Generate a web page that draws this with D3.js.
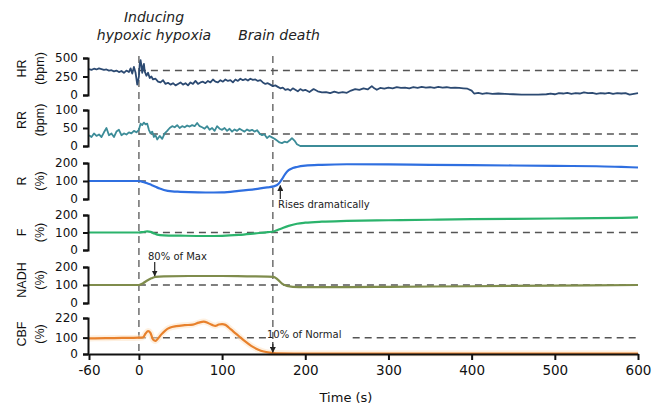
<!DOCTYPE html>
<html>
<head>
<meta charset="utf-8">
<script src="https://cdn.jsdelivr.net/npm/d3@7"></script>
<style>
  body { margin: 0; background: #fff; }
  svg { display: block; }
  .tick text { font-family: "DejaVu Sans", sans-serif; fill: #111; }
</style>
</head>
<body>
<div id="chart"></div>
<script>
// ---- data: [time (s), value] ----
const hrData = [[-60,350],[-57,340],[-54,355],[-51,345],[-48,360],[-45,350],[-42,340],[-39,345],[-36,330],[-33,335],
  [-30,320],[-27,330],[-24,310],[-21,325],[-18,300],[-15,330],[-12,310],[-10,360],[-8,290],[-6,380],[-4,300],[-2,140],
  [0,250],[1,420],[2,470],[3,400],[4,300],[5,380],[6,420],[7,320],[9,260],[11,300],[13,230],[15,250],[17,210],[20,220],
  [23,180],[26,170],[29,200],[32,150],[35,165],[38,140],[41,160],[44,130],[47,150],[50,170],[53,140],[56,160],[59,130],
  [62,170],[65,150],[68,190],[71,150],[74,170],[77,180],[80,160],[83,190],[86,170],[89,210],[92,180],[95,170],[98,200],
  [101,180],[104,210],[107,190],[110,200],[113,170],[116,210],[119,190],[122,220],[125,200],[128,215],[131,195],[134,220],
  [137,205],[140,210],[143,190],[146,200],[149,170],[152,150],[155,160],[158,140],[161,120],[164,130],[167,110],[170,90],
  [173,100],[176,70],[179,80],[182,60],[185,90],[188,70],[191,50],[194,80],[197,60],[200,70],[205,40],[210,80],[215,50],
  [220,35],[225,40],[230,25],[235,45],[240,30],[245,40],[250,30],[255,60],[260,80],[265,70],[270,90],[275,75],[280,120],
  [283,90],[286,70],[290,95],[295,85],[300,100],[305,90],[310,105],[315,95],[320,100],[325,90],[330,105],[335,95],
  [340,110],[345,100],[350,105],[355,95],[360,110],[365,100],[370,105],[375,95],[380,100],[385,95],[390,90],[395,85],
  [400,60],[403,20],[408,30],[413,15],[418,25],[425,15],[432,20],[440,15],[450,10],[460,5],[470,5],[480,5],[490,10],
  [495,20],[500,10],[505,25],[510,20],[515,30],[520,15],[525,25],[530,20],[535,35],[540,25],[545,30],[550,15],[555,25],
  [560,20],[565,30],[570,15],[575,25],[580,20],[585,25],[590,5],[595,15],[600,25]];

const rrData = [[-60,30],[-57,25],[-54,35],[-51,28],[-48,32],[-45,25],[-42,38],[-39,50],[-36,30],[-33,35],[-30,25],
  [-27,40],[-24,45],[-21,30],[-18,35],[-15,32],[-12,38],[-9,35],[-6,42],[-3,38],[0,45],[2,62],[4,58],[6,65],[8,60],
  [10,62],[12,45],[14,35],[16,40],[18,25],[20,30],[22,18],[25,28],[28,20],[31,35],[34,42],[37,50],[40,55],[43,52],
  [46,58],[49,50],[52,55],[55,52],[58,57],[61,54],[64,58],[67,55],[70,64],[73,55],[76,52],[79,48],[82,55],[85,45],
  [88,50],[91,42],[94,55],[97,48],[100,45],[103,50],[106,42],[109,48],[112,40],[115,46],[118,42],[121,48],[124,44],
  [127,40],[130,46],[133,42],[136,45],[139,40],[142,44],[145,35],[148,30],[151,32],[154,22],[157,28],[160,24],[163,20],
  [166,15],[169,10],[172,8],[175,12],[178,10],[181,15],[184,22],[187,15],[190,5],[194,0],[600,0]];

const rData = [[-60,100],[-30,100],[-10,100],[0,100],[5,95],[10,88],[15,78],[20,68],[25,58],[30,50],[40,42],[50,40],
  [60,38],[80,36],[100,37],[120,45],[140,55],[155,65],[162,70],[168,85],[172,110],[176,140],[180,160],[185,172],
  [190,178],[200,185],[220,190],[250,193],[300,192],[350,190],[400,188],[450,186],[500,184],[550,182],[580,178],[600,175]];

const fData = [[-60,100],[0,100],[5,103],[10,106],[14,104],[18,95],[22,88],[30,84],[50,82],[80,80],[100,81],[120,86],
  [140,95],[155,102],[162,106],[170,120],[180,138],[190,150],[200,156],[220,162],[250,166],[300,170],[350,173],
  [400,176],[450,178],[500,180],[550,182],[580,184],[600,186]];

const nadhData = [[-60,100],[0,100],[5,110],[10,125],[15,137],[20,145],[30,148],[60,150],[100,150],[130,148],[155,147],
  [162,145],[167,130],[172,108],[178,95],[185,90],[200,88],[250,88],[300,90],[400,93],[500,97],[600,100]];

const cbfData = [[-60,95],[-40,97],[-20,98],[0,100],[5,102],[8,125],[11,140],[14,128],[17,88],[20,80],[23,95],[27,120],
  [32,145],[37,160],[45,170],[55,176],[65,180],[72,192],[78,198],[83,190],[88,178],[92,172],[96,180],[100,182],[104,178],
  [108,162],[113,140],[120,110],[127,80],[135,50],[143,28],[150,15],[157,8],[165,4],[200,3],[300,3],[400,3],[500,3],[600,3]];

const panelNames = ["HR", "RR", "R", "F", "NADH", "CBF"];
const panelUnits = ["(bpm)", "(bpm)", "(%)", "(%)", "(%)", "(%)"];
const panelSeries = [hrData, rrData, rData, fData, nadhData, cbfData];
const panelMax = [500, 100, 200, 200, 200, 220];
const panelTicks = [[0, 250, 500], [0, 50, 100], [0, 100, 200], [0, 100, 200], [0, 100, 200], [0, 100, 220]];
const baselineValues = [330, 33, 100, 100, 100, 100];
const xTicks = [-60, 0, 100, 200, 300, 400, 500, 600];
const eventTimes = [0, 161];

// ---- layout ----
const width = 660, height = 406;
const panelTop = [58, 110, 163, 215, 267, 318];
const panelBottom = [95, 146, 199, 250, 303, 354];
const labelShift = [-8, -8, 0, 0, -5, -2];
const colors = ["#2c4a72", "#3c8c98", "#2f6fe0", "#2bb36c", "#7f8c4c", "#e8812c"];
const axisX = 88;

const svg = d3.select("#chart").append("svg")
  .attr("width", width)
  .attr("height", height);

const x = d3.scaleLinear().domain([-60, 600]).range([89, 638]);

const ys = panelNames.map((n, i) => d3.scaleLinear()
  .domain([0, panelMax[i]])
  .range([panelBottom[i], panelTop[i]]));

// vertical event lines
svg.selectAll(".event-line")
  .data(eventTimes)
  .enter().append("line")
  .attr("class", "event-line")
  .attr("x1", d => x(d)).attr("x2", d => x(d))
  .attr("y1", 56).attr("y2", 354)
  .attr("stroke", "#777")
  .attr("stroke-width", 1.6)
  .attr("stroke-dasharray", "7,5");

// horizontal reference lines (CBF has a gap for the label)
panelNames.forEach((n, i) => {
  const yv = ys[i](baselineValues[i]);
  const segs = n === "CBF" ? [[0, 153], [257, 600]] : [[0, 600]];
  segs.forEach(s => {
    svg.append("line")
      .attr("x1", x(s[0])).attr("x2", x(s[1]))
      .attr("y1", yv).attr("y2", yv)
      .attr("stroke", "#555")
      .attr("stroke-width", 1.5)
      .attr("stroke-dasharray", "7,5");
  });
});

// traces
panelNames.forEach((n, i) => {
  const line = d3.line()
    .x(d => x(d[0]))
    .y(d => ys[i](d[1]))
    .curve(i < 2 ? d3.curveLinear : d3.curveMonotoneX);

  if (n === "CBF") {
    // faint band around the CBF trace
    svg.append("path")
      .datum(panelSeries[i])
      .attr("fill", "none")
      .attr("stroke", "#fde3c6")
      .attr("stroke-width", 6)
      .attr("opacity", 0.55)
      .attr("d", line);
  }

  svg.append("path")
    .datum(panelSeries[i])
    .attr("fill", "none")
    .attr("stroke", colors[i])
    .attr("stroke-width", i < 2 ? 1.8 : 2.2)
    .attr("stroke-linejoin", "round")
    .attr("d", line);
});

// y axes (bracket style)
panelNames.forEach((n, i) => {
  const ax = svg.append("g")
    .attr("transform", `translate(${axisX},0)`)
    .call(d3.axisLeft(ys[i]).tickValues(panelTicks[i]).tickSize(5).tickSizeOuter(5).tickPadding(5));
  ax.select(".domain").attr("stroke", "#111").attr("stroke-width", 2);
  ax.selectAll(".tick line").attr("stroke", "#111").attr("stroke-width", 2);
  ax.selectAll(".tick text").attr("font-size", "12px");

  const cy = (panelTop[i] + panelBottom[i]) / 2 + labelShift[i];
  svg.append("text")
    .attr("transform", `translate(26,${cy}) rotate(-90)`)
    .attr("text-anchor", "middle")
    .style("font-family", "Liberation Sans, Arial, sans-serif")
    .style("font-size", "12.5px")
    .attr("fill", "#111")
    .text(n);
  svg.append("text")
    .attr("transform", `translate(44,${cy}) rotate(-90)`)
    .attr("text-anchor", "middle")
    .style("font-family", "Liberation Sans, Arial, sans-serif")
    .style("font-size", "12.5px")
    .attr("fill", "#111")
    .text(panelUnits[i]);
});

// x axis
const xAxis = svg.append("g")
  .attr("transform", "translate(0,354)")
  .call(d3.axisBottom(x).tickValues(xTicks).tickFormat(d => String(d))
    .tickSize(6).tickSizeOuter(0).tickPadding(5));
xAxis.select(".domain").attr("stroke", "#111").attr("stroke-width", 2);
xAxis.selectAll(".tick line").attr("stroke", "#111").attr("stroke-width", 2);
xAxis.selectAll(".tick text").attr("font-size", "13.5px");

svg.append("text")
  .attr("x", 346).attr("y", 402)
  .attr("text-anchor", "middle")
  .style("font-family", "DejaVu Sans, sans-serif")
  .style("font-size", "13px")
  .attr("fill", "#111")
  .text("Time (s)");

// event titles
const titleFont = sel => sel
  .attr("text-anchor", "middle")
  .style("font-family", "DejaVu Sans, sans-serif")
  .style("font-style", "italic")
  .style("font-size", "14px")
  .attr("fill", "#222");
svg.append("text").attr("x", 154).attr("y", 22).call(titleFont).text("Inducing");
svg.append("text").attr("x", 154).attr("y", 40).call(titleFont).text("hypoxic hypoxia");
svg.append("text").attr("x", 279).attr("y", 40).call(titleFont).text("Brain death");

// annotations with arrows
svg.append("defs").append("marker")
  .attr("id", "arrow")
  .attr("viewBox", "0 0 10 10")
  .attr("refX", 9).attr("refY", 5)
  .attr("markerWidth", 5).attr("markerHeight", 5)
  .attr("orient", "auto")
  .append("path")
  .attr("d", "M0,0L10,5L0,10z")
  .attr("fill", "#222");

const annFont = sel => sel
  .style("font-family", "DejaVu Sans, sans-serif")
  .style("font-size", "10px")
  .attr("fill", "#222");

// 80% of Max (NADH)
svg.append("line")
  .attr("x1", x(19)).attr("x2", x(19))
  .attr("y1", 262).attr("y2", ys[4](145) - 1)
  .attr("stroke", "#222").attr("stroke-width", 1.2)
  .attr("marker-end", "url(#arrow)");
svg.append("text").attr("x", 148).attr("y", 260).call(annFont).text("80% of Max");

// Rises dramatically (R)
svg.append("line")
  .attr("x1", x(170)).attr("x2", x(170))
  .attr("y1", 199).attr("y2", ys[2](80) + 1)
  .attr("stroke", "#222").attr("stroke-width", 1.2)
  .attr("marker-end", "url(#arrow)");
svg.append("text").attr("x", 278).attr("y", 208).call(annFont).text("Rises dramatically");

// 10% of Normal (CBF)
svg.append("line")
  .attr("x1", x(161)).attr("x2", x(161))
  .attr("y1", 342).attr("y2", ys[5](10))
  .attr("stroke", "#222").attr("stroke-width", 1.2)
  .attr("marker-end", "url(#arrow)");
svg.append("text").attr("x", 267).attr("y", 338).call(annFont).text("10% of Normal");
</script>
</body>
</html>
